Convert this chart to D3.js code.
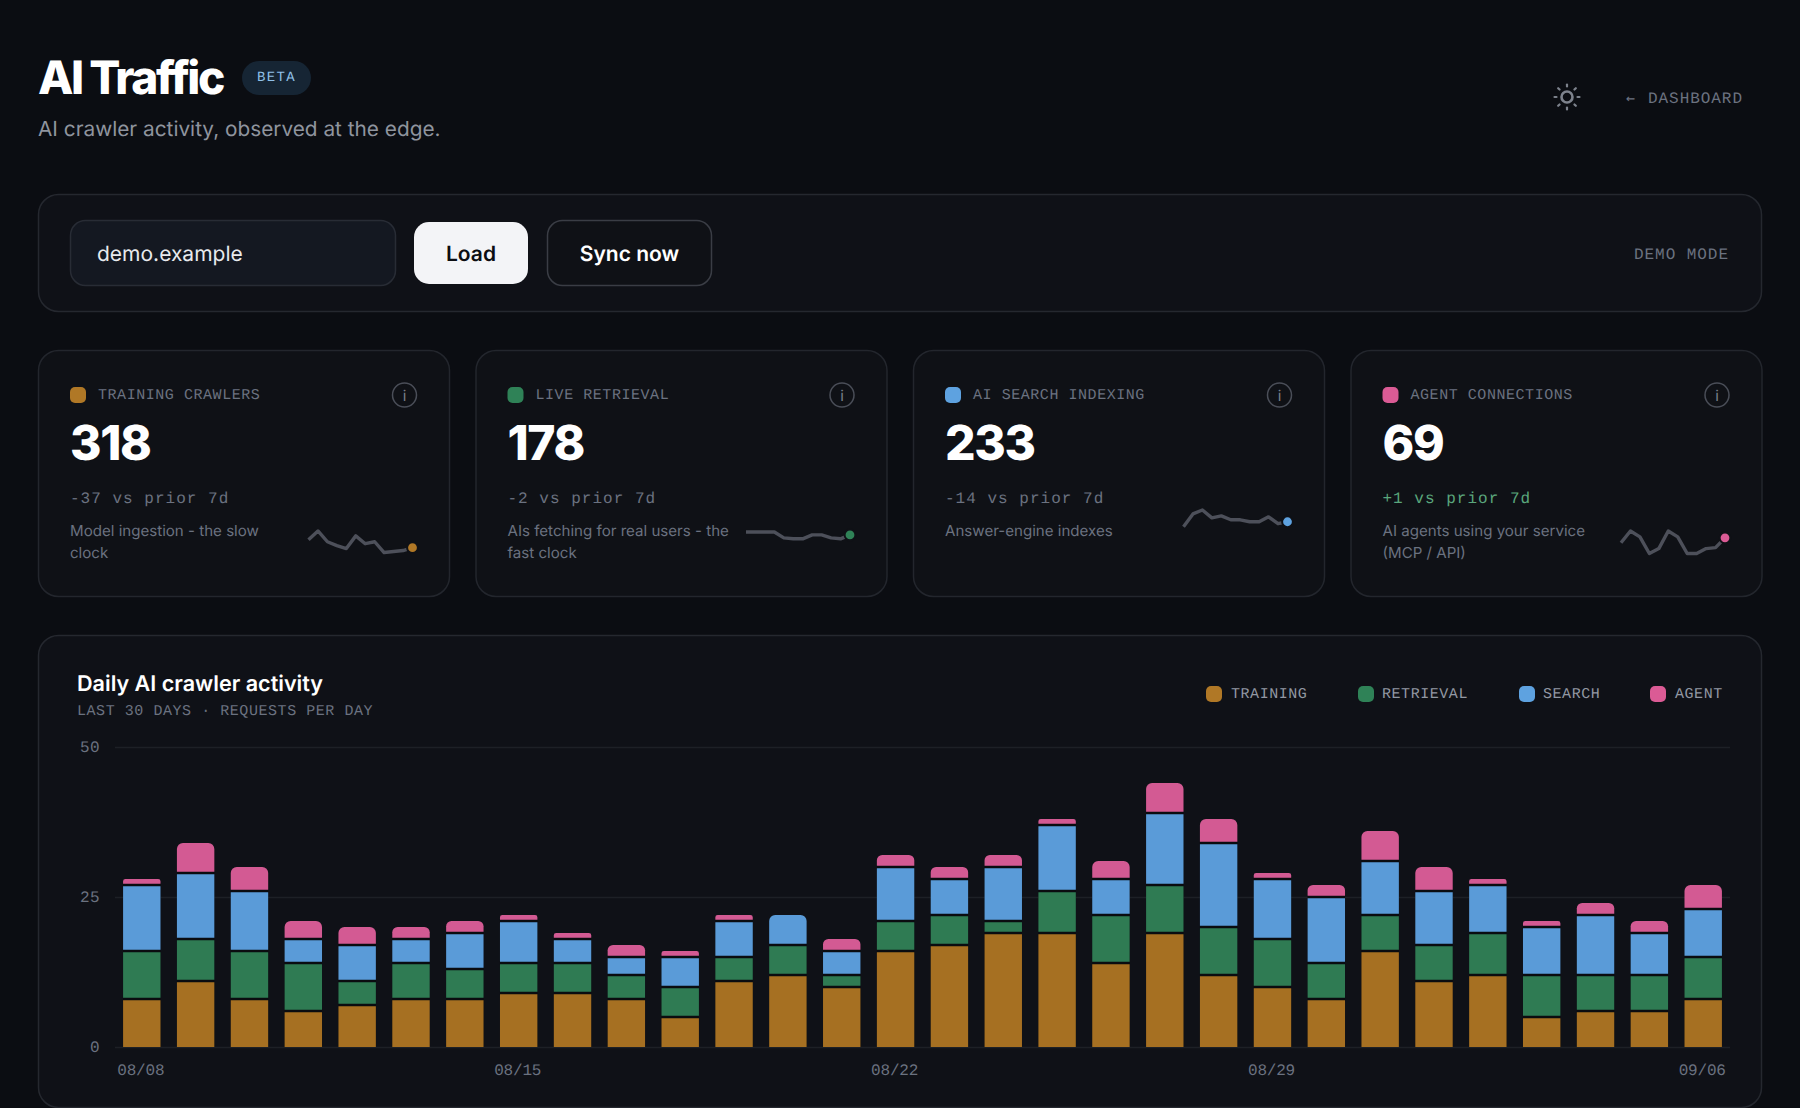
<!DOCTYPE html>
<html>
<head>
<meta charset="utf-8">
<title>AI Traffic</title>
<script src="https://cdn.jsdelivr.net/npm/d3@7"></script>
<style>
  html, body { margin: 0; padding: 0; background: #0b0d12; overflow: hidden; }
  svg { display: block; }
  text { font-family: Inter, sans-serif; text-rendering: geometricPrecision; }
  .mono, .tick text { font-family: "Liberation Mono", monospace; }
</style>
</head>
<body>
<svg id="page" width="1800" height="1108"></svg>
<script>
const days = ['08/08','08/09','08/10','08/11','08/12','08/13','08/14','08/15','08/16','08/17',
  '08/18','08/19','08/20','08/21','08/22','08/23','08/24','08/25','08/26','08/27',
  '08/28','08/29','08/30','08/31','09/01','09/02','09/03','09/04','09/05','09/06'];
const dayTicks = ['08/08', '08/15', '08/22', '08/29', '09/06'];
const countTicks = [0, 25, 50];

const training = [8,11,8,6,7,8,8,9,9,8,5,11,12,10,16,17,19,19,14,19,12,10,8,16,11,12,5,6,6,8];
const retrieval = [8,7,8,8,4,6,5,5,5,4,5,4,5,2,5,5,2,7,8,8,8,8,6,6,6,7,7,6,6,7];
const searchIdx = [11,11,10,4,6,4,6,7,4,3,5,6,5,4,9,6,9,11,6,12,14,10,11,9,9,8,8,10,7,8];
const agent = [1,5,4,3,3,2,2,1,1,2,1,1,0,2,2,2,2,1,3,5,4,1,2,5,4,1,1,2,2,4];

const seriesKeys = ['training', 'retrieval', 'search', 'agent'];
const legendLabels = ['TRAINING', 'RETRIEVAL', 'SEARCH', 'AGENT'];
const cardLabels = ['TRAINING CRAWLERS', 'LIVE RETRIEVAL', 'AI SEARCH INDEXING', 'AGENT CONNECTIONS'];
const cardTotals = ['318', '178', '233', '69'];
const cardDeltas = ['-37 vs prior 7d', '-2 vs prior 7d', '-14 vs prior 7d', '+1 vs prior 7d'];
const cardDescs = [
  ['Model ingestion - the slow', 'clock'],
  ['AIs fetching for real users - the', 'fast clock'],
  ['Answer-engine indexes'],
  ['AI agents using your service', '(MCP / API)']
];
const sparkTraining = [14,23,12,8,5,18,10,12,1,2,3,6];
const sparkRetrieval = [22,22,22,22,16,15,15,19,19,16,15,19];
const sparkSearch = [7,20,24,16,18,14,14,12,12,17,10,12];
const sparkAgent = [11,23,17,0,5,23,17,0,0,5,6,16];
const sparks = [sparkTraining, sparkRetrieval, sparkSearch, sparkAgent];

const barColor = d3.scaleOrdinal().domain(seriesKeys).range(['#a67022', '#2f7b53', '#5a9bd8', '#d35a93']);
const swatchColor = d3.scaleOrdinal().domain(seriesKeys).range(['#b07826', '#2f8257', '#5ea2e0', '#db5b95']);

const svg = d3.select('#page');

function label(parent, x, y, str, opts) {
  const o = opts || {};
  return parent.append('text')
    .attr('class', o.mono ? 'mono' : null)
    .attr('x', x)
    .attr('y', y)
    .attr('text-anchor', o.anchor || 'start')
    .style('font-size', (o.size || 16) + 'px')
    .style('font-weight', o.weight || 400)
    .style('letter-spacing', o.spacing || 'normal')
    .style('fill', o.fill || '#6b7280')
    .text(str);
}

function box(parent, x, y, w, h, r, fill, stroke) {
  return parent.append('rect')
    .attr('x', x + 0.5).attr('y', y + 0.5)
    .attr('width', w - 1).attr('height', h - 1)
    .attr('rx', r)
    .style('fill', fill)
    .style('stroke', stroke || 'none')
    .style('stroke-width', 1.5);
}

// header
label(svg, 38, 93.5, 'AI Traffic', { size: 46, weight: 800, fill: '#ffffff', spacing: '-0.053em' });
svg.append('rect').attr('x', 242).attr('y', 61).attr('width', 69).attr('height', 34).attr('rx', 17).style('fill', '#162534');
label(svg, 276.5, 81, 'BETA', { mono: true, size: 14, fill: '#8fc0e8', spacing: '1.3px', anchor: 'middle' });
label(svg, 38, 136, 'AI crawler activity, observed at the edge.', { size: 20.8, fill: '#8f949e' });

const sun = svg.append('g').attr('transform', 'translate(1567,97)')
  .style('stroke', '#7d828c').style('fill', 'none').style('stroke-linecap', 'round');
sun.append('circle').attr('r', 5.5).style('stroke-width', 2.6);
sun.selectAll('line')
  .data(d3.range(8))
  .enter()
  .append('line')
  .attr('y1', -10.5)
  .attr('y2', -12.5)
  .attr('transform', d => `rotate(${d * 45})`)
  .style('stroke-width', 2.2);
label(svg, 1626, 102.5, '←', { size: 15, fill: '#6b7280' }).style('font-family', '"DejaVu Sans Mono", monospace');
label(svg, 1648, 102.5, 'DASHBOARD', { mono: true, size: 16, spacing: '0.95px' });

// controls
box(svg, 38, 194, 1724, 118, 20, '#0f1117', '#25282f');
box(svg, 70, 220, 326, 66, 15, '#141821', '#282c35');
label(svg, 97, 261, 'demo.example', { size: 21, fill: '#e8eaee' });
svg.append('rect').attr('x', 414).attr('y', 222).attr('width', 114).attr('height', 62).attr('rx', 15).style('fill', '#f3f4f7');
label(svg, 471, 261, 'Load', { size: 21, weight: 600, fill: '#0b0d12', anchor: 'middle' });
box(svg, 547, 220, 165, 66, 15, '#0f1116', '#3a3d45');
label(svg, 629.5, 261, 'Sync now', { size: 21, weight: 600, fill: '#ffffff', anchor: 'middle' });
label(svg, 1634, 259, 'DEMO MODE', { mono: true, size: 16, spacing: '0.95px' });

// stat cards
const cardX = d3.scalePoint().domain(d3.range(4)).range([38, 1350.5]);
const sparkX = d3.scaleLinear().domain([0, 11]).range([270.5, 374.5]);
const sparkY = d3.scaleLinear().domain([0, 24]).range([203.5, 180]);
const sparkLine = d3.line().x((d, i) => sparkX(i)).y(d => sparkY(d));

seriesKeys.forEach((key, i) => {
  const card = svg.append('g').attr('transform', `translate(${cardX(i)},350)`);
  box(card, 0, 0, 412, 247, 20, '#0f1116', '#23262d');
  card.append('rect').attr('x', 32).attr('y', 37).attr('width', 16).attr('height', 16).attr('rx', 5).style('fill', swatchColor(key));
  label(card, 60, 48.5, cardLabels[i], { mono: true, size: 15, spacing: '0.55px' });
  card.append('circle').attr('cx', 366.5).attr('cy', 45).attr('r', 12).style('fill', 'none').style('stroke', '#4a4e58').style('stroke-width', 1.5);
  label(card, 366.5, 50.5, 'i', { size: 15, anchor: 'middle', fill: '#7a808b' });
  label(card, 32, 110, cardTotals[i], { size: 48, weight: 800, fill: '#ffffff', spacing: '-0.028em' });
  label(card, 32, 153, cardDeltas[i], { mono: true, size: 16, spacing: '1.02px', fill: cardDeltas[i][0] === '+' ? '#5aa67c' : '#6b7280' });
  cardDescs[i].forEach((line, k) => {
    label(card, 32, 186 + k * 21.5, line, { size: 15.1 });
  });
  const spark = card.append('g').attr('transform', `translate(0,${cardDescs[i].length === 1 ? -20 : 0})`);
  spark.append('path')
    .attr('d', sparkLine(sparks[i]))
    .style('fill', 'none')
    .style('stroke', '#4d505a')
    .style('stroke-width', 3.4)
    .style('stroke-linejoin', 'round');
  spark.append('circle')
    .attr('cx', sparkX(11))
    .attr('cy', sparkY(sparks[i][11]))
    .attr('r', 5.4)
    .style('fill', swatchColor(key))
    .style('stroke', '#0f1116')
    .style('stroke-width', 2);
});

// chart panel
box(svg, 38, 635, 1724, 473, 20, '#0f1117', '#25282f');
label(svg, 77, 691, 'Daily AI crawler activity', { size: 21.6, weight: 600, fill: '#ffffff' });
label(svg, 77, 714.5, 'LAST 30 DAYS · REQUESTS PER DAY', { mono: true, size: 15, spacing: '0.55px' });

const legendSwatchX = [1206, 1358, 1519, 1650];
const legendTextX = [1231, 1382, 1543, 1675];
seriesKeys.forEach((key, i) => {
  svg.append('rect').attr('x', legendSwatchX[i]).attr('y', 686).attr('width', 16).attr('height', 16).attr('rx', 5).style('fill', swatchColor(key));
  label(svg, legendTextX[i], 698, legendLabels[i], { mono: true, size: 15, spacing: '0.55px', fill: '#9298a3' });
});

const rows = days.map((day, i) => ({
  day,
  training: training[i],
  retrieval: retrieval[i],
  search: searchIdx[i],
  agent: agent[i]
}));

const x = d3.scaleBand().domain(days).range([115, 1730]).paddingInner(0.305).paddingOuter(0.15);
const y = d3.scaleLinear().domain([0, 50]).range([1047, 747]);
const stacked = d3.stack().keys(seriesKeys)(rows);
const gap = 2.6;

const yAxis = svg.append('g')
  .attr('transform', 'translate(115,0)')
  .call(d3.axisLeft(y).tickValues(countTicks).tickSize(-1615).tickPadding(15));
yAxis.select('.domain').remove();
yAxis.selectAll('line').style('stroke', '#1d2026').style('stroke-width', 1.5);
yAxis.selectAll('text').attr('dy', '0.28em').style('font-size', '16px').style('letter-spacing', '0.4px').style('fill', '#6b7280');

const xAxis = svg.append('g')
  .attr('transform', 'translate(-1,1047)')
  .call(d3.axisBottom(x).tickValues(dayTicks).tickSize(0).tickPadding(17));
xAxis.select('.domain').remove();
xAxis.selectAll('text').style('font-size', '16px').style('letter-spacing', '-0.2px').style('fill', '#6b7280');

// index of the highest non empty layer in a day
function topLayer(dayIndex) {
  return d3.max(stacked, (l, k) => (l[dayIndex][1] > l[dayIndex][0] ? k : -1));
}

// dark strip behind the bar shows through as the gap between segments
svg.append('g')
  .selectAll('rect')
  .data(rows)
  .enter()
  .append('rect')
  .attr('x', d => x(d.day))
  .attr('width', x.bandwidth())
  .attr('y', (d, i) => y(stacked[topLayer(i)][i][0]) - gap / 2)
  .attr('height', (d, i) => y(0) - y(stacked[topLayer(i)][i][0]) + gap / 2)
  .style('fill', '#0a0c10');

// top segment of each bar gets rounded top corners
function segmentPath(s, layer, dayIndex) {
  const top = layer === topLayer(dayIndex);
  const x0 = x(s.data.day);
  const x1 = x0 + x.bandwidth();
  const y0 = y(s[0]) - (layer > 0 ? gap / 2 : 0);
  const y1 = y(s[1]) + (top ? 0 : gap / 2);
  const r = top ? Math.min(6, (y0 - y1) / 2) : 0;
  const p = d3.path();
  p.moveTo(x0, y0);
  p.lineTo(x0, y1 + r);
  if (r) p.arcTo(x0, y1, x0 + r, y1, r);
  p.lineTo(x1 - r, y1);
  if (r) p.arcTo(x1, y1, x1, y1 + r, r);
  p.lineTo(x1, y0);
  p.closePath();
  return p.toString();
}

svg.append('g')
  .selectAll('g')
  .data(stacked)
  .enter()
  .append('g')
  .style('fill', d => barColor(d.key))
  .each(function(layer, k) {
    d3.select(this)
      .selectAll('path')
      .data(layer.filter(s => s[1] > s[0]))
      .enter()
      .append('path')
      .attr('d', s => segmentPath(s, k, days.indexOf(s.data.day)));
  });
</script>
</body>
</html>
